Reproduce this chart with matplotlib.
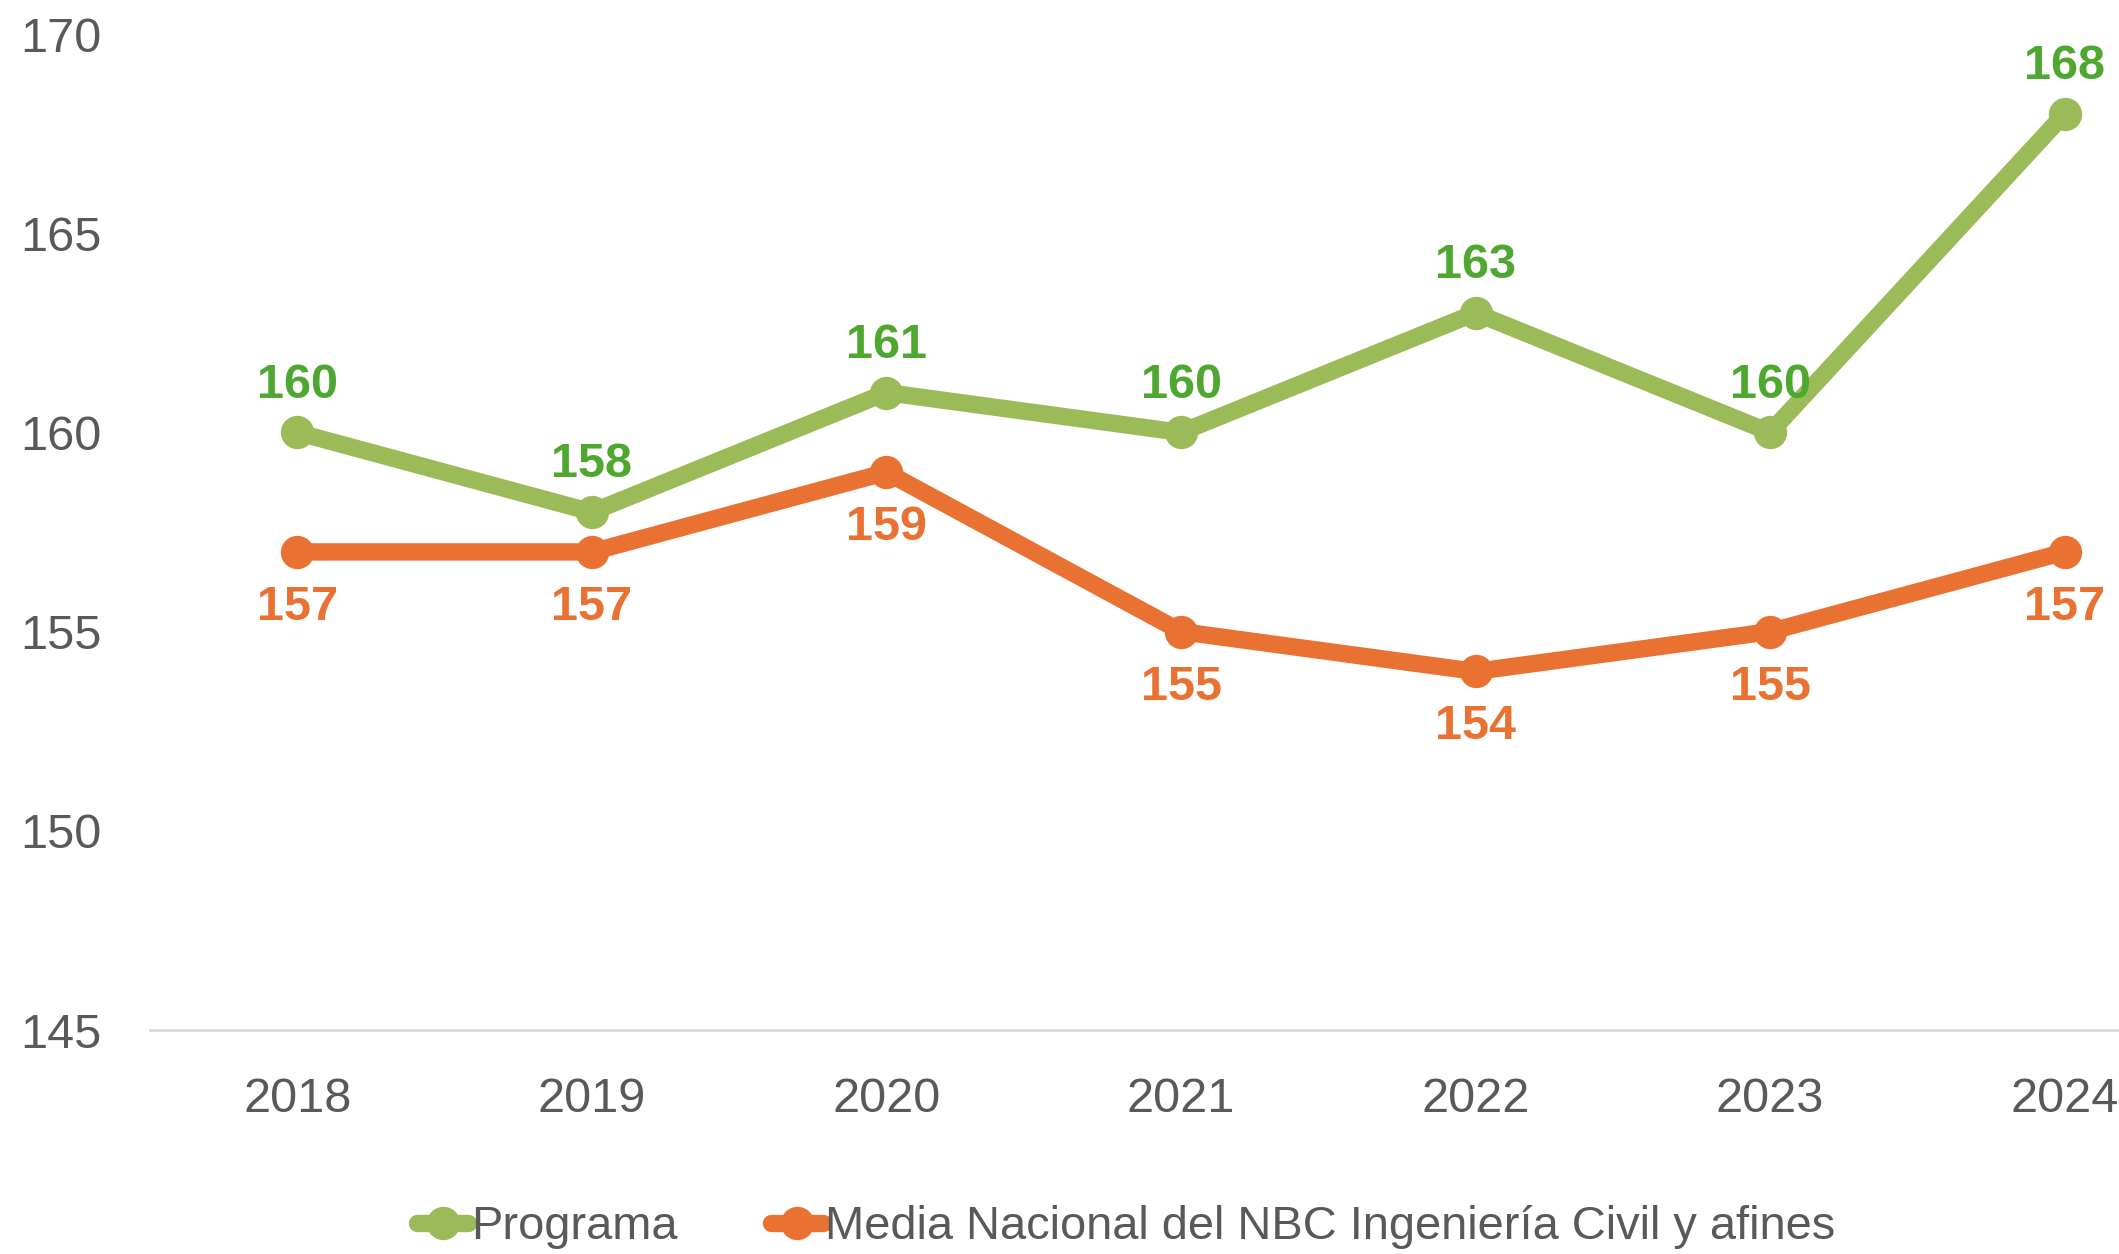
import matplotlib.pyplot as plt

plt.rcParams['font.family'] = ['Liberation Sans', 'DejaVu Sans']

years = ['2018', '2019', '2020', '2021', '2022', '2023', '2024']
programa = [160, 158, 161, 160, 163, 160, 168]
media_nacional = [157, 157, 159, 155, 154, 155, 157]

GREEN_LINE = '#9BBB59'
GREEN_TEXT = '#4EA72E'
ORANGE = '#E97132'
GREY_TEXT = '#595959'

fig = plt.figure(figsize=(21.19, 12.54), dpi=100)
# plot area runs past the right edge of the figure, like the original export
ax = fig.add_axes([150 / 2119, 1 - 1030 / 1254, 2062 / 2119, 996 / 1254])

x = list(range(len(years)))
ax.plot(x, programa, color=GREEN_LINE, lw=12.5, marker='o', ms=23,
        solid_capstyle='round', solid_joinstyle='round', label='Programa', zorder=3)
ax.plot(x, media_nacional, color=ORANGE, lw=12.5, marker='o', ms=23,
        solid_capstyle='round', solid_joinstyle='round',
        label='Media Nacional del NBC Ingeniería Civil y afines', zorder=3)

for xi, v in zip(x, programa):
    ax.annotate(f'{v}', (xi, v), xytext=(0, 34), textcoords='offset points',
                ha='center', va='center', color=GREEN_TEXT, fontsize=35,
                fontweight='bold')
for xi, v in zip(x, media_nacional):
    ax.annotate(f'{v}', (xi, v), xytext=(0, -40), textcoords='offset points',
                ha='center', va='center', color=ORANGE, fontsize=35,
                fontweight='bold')

ax.set_xlim(-0.5, 6.5)
ax.set_ylim(145, 170)
ax.set_xticks(x)
ax.set_xticklabels(years)
ax.set_yticks([145, 150, 155, 160, 165, 170])
ax.tick_params(axis='both', length=0, labelsize=35, colors=GREY_TEXT)
ax.tick_params(axis='y', pad=35)
ax.tick_params(axis='x', pad=34)

for side in ['top', 'right', 'left']:
    ax.spines[side].set_visible(False)
ax.spines['bottom'].set_color('#D9D9D9')
ax.spines['bottom'].set_linewidth(2)

leg = fig.legend(loc='center', bbox_to_anchor=(1126 / 2119, 1 - 1227 / 1254),
                 ncol=2, frameon=False, fontsize=33.8, handlelength=1.1,
                 handletextpad=0.05, columnspacing=2.0, markerscale=1.0)
for t in leg.get_texts():
    t.set_color(GREY_TEXT)

fig.savefig('out.png', dpi=100)
